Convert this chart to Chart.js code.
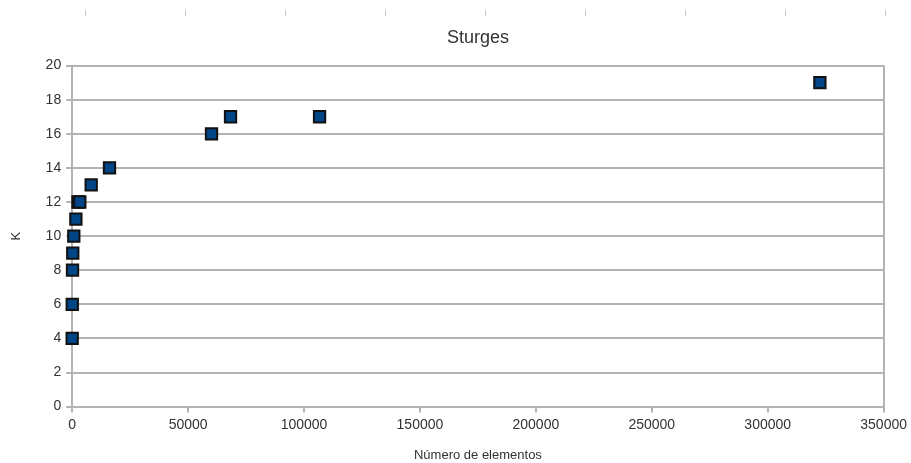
<!DOCTYPE html>
<html>
<head>
<meta charset="utf-8">
<script src="https://cdn.jsdelivr.net/npm/chart.js@4/dist/chart.umd.min.js"></script>
<style>
  html, body { margin: 0; padding: 0; background: #fff; }
  #grafico { display: block; }
</style>
</head>
<body>
<canvas id="grafico" width="911" height="463"></canvas>
<script>
// Dados (Sturges: K x número de elementos)
var elementos = [10, 40, 150, 250, 700, 1600, 2500, 3300, 8200, 16100, 60100, 68300, 106700, 322500];
var valoresK = [4, 6, 8, 9, 10, 11, 12, 12, 13, 14, 16, 17, 17, 19];

var tituloGrafico = 'Sturges';
var tituloX = 'Número de elementos';
var tituloY = 'K';

var pontos = elementos.map(function (n, i) {
    return { x: n, y: valoresK[i] };
});

// Marcas de célula no topo (restos da planilha)
var marcasTopo = {
    id: 'marcasTopo',
    beforeDraw: function (chart) {
        var c = chart.ctx;
        c.save();
        c.strokeStyle = '#c8c8c8';
        c.lineWidth = 1;
        for (var x = 85; x < chart.width; x += 100) {
            c.beginPath();
            c.moveTo(x + 0.5, 10);
            c.lineTo(x + 0.5, 16);
            c.stroke();
        }
        c.restore();
    }
};

var corGrade = '#b3b3b3';

var ctx = document.getElementById('grafico').getContext('2d');
var myChart = new Chart(ctx, {
    type: 'scatter',
    data: {
        datasets: [{
            label: 'K',
            data: pontos,
            clip: false,
            pointStyle: 'rect',
            pointRadius: 8,
            pointHoverRadius: 8,
            pointBackgroundColor: '#004586',
            pointBorderColor: '#111111',
            pointBorderWidth: 2
        }]
    },
    plugins: [marcasTopo],
    options: {
        responsive: false,
        animation: false,
        layout: { padding: { top: 27, right: 0, left: 3, bottom: 0 } },
        plugins: {
            legend: { display: false },
            tooltip: { enabled: false },
            title: {
                display: true,
                text: tituloGrafico,
                fullSize: false,
                color: '#333333',
                font: { family: 'Liberation Sans', size: 18, weight: 'normal' },
                padding: { top: 0, bottom: 17 }
            }
        },
        scales: {
            x: {
                type: 'linear',
                min: 0,
                max: 350000,
                ticks: {
                    stepSize: 50000,
                    color: '#333333',
                    font: { family: 'Liberation Sans', size: 14 },
                    maxRotation: 0,
                    padding: 4,
                    callback: function (v) { return String(v); }
                },
                grid: {
                    color: function (c) {
                        return c.tick && c.tick.value === 350000 ? corGrade : 'rgba(0,0,0,0)';
                    },
                    tickColor: corGrade,
                    tickLength: 6,
                    lineWidth: 2
                },
                border: { color: corGrade, width: 2 },
                title: {
                    display: true,
                    text: tituloX,
                    color: '#333333',
                    font: { family: 'Liberation Sans', size: 13 },
                    padding: { top: 10, bottom: 0 }
                }
            },
            y: {
                min: 0,
                max: 20,
                ticks: {
                    stepSize: 2,
                    color: '#333333',
                    font: { family: 'Liberation Sans', size: 14 },
                    padding: 5
                },
                grid: {
                    color: corGrade,
                    tickColor: corGrade,
                    tickLength: 6,
                    lineWidth: 2
                },
                border: { color: corGrade, width: 2 },
                title: {
                    display: true,
                    text: tituloY,
                    color: '#333333',
                    font: { family: 'Liberation Sans', size: 13 },
                    padding: { top: 6, bottom: 16 }
                }
            }
        }
    }
});
</script>
</body>
</html>
